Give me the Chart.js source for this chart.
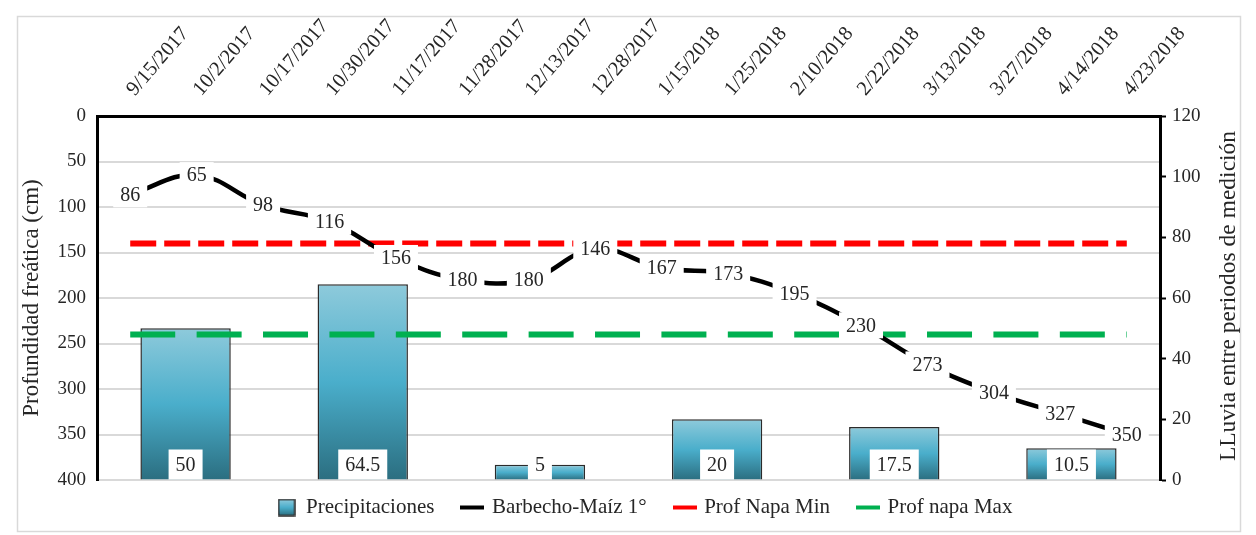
<!DOCTYPE html>
<html>
<head>
<meta charset="utf-8">
<script src="https://cdn.jsdelivr.net/npm/chart.js@4.4.0/dist/chart.umd.min.js"></script>
<style>
html, body { margin:0; padding:0; background:#fff; }
</style>
</head>
<body>
<canvas id="napaChart" width="1256" height="535"></canvas>
<script>
// fechas de medición (eje superior)
const fechas = ["9/15/2017","10/2/2017","10/17/2017","10/30/2017","11/17/2017","11/28/2017",
    "12/13/2017","12/28/2017","1/15/2018","1/25/2018","2/10/2018","2/22/2018",
    "3/13/2018","3/27/2018","4/14/2018","4/23/2018"];

// profundidad de napa (cm)
const profundidad = [86,65,98,116,156,180,180,146,167,173,195,230,273,304,327,350];
const napaMin = [140,140,140,140,140,140,140,140,140,140,140,140,140,140,140,140];
const napaMax = [240,240,240,240,240,240,240,240,240,240,240,240,240,240,240,240];

// lluvia entre periodos de medición (mm)
const periodos = ["P1","P2","P3","P4","P5","P6"];
const precipitaciones = [50,64.5,5,20,17.5,10.5];

const FUENTE = '"Liberation Serif", "Times New Roman", serif';
const TEXTO = "#262626";

function gradienteBarra(g, top, bottom){
    let gr = g.createLinearGradient(0, top, 0, bottom);
    gr.addColorStop(0, "#8ecadb");
    gr.addColorStop(0.5, "#4aaecb");
    gr.addColorStop(1, "#2b6e80");
    return gr;
}

function muestra(tipo, color){
    let cv = document.createElement("canvas");
    let g = cv.getContext("2d");
    if(tipo === "caja"){
        cv.width = 18; cv.height = 18;
        g.fillStyle = gradienteBarra(g, 1, 17);
        g.fillRect(1,1,16,16);
        g.strokeStyle = "#2b2b2b";
        g.lineWidth = 1.5;
        g.strokeRect(1,1,16,16);
    } else {
        cv.width = 24; cv.height = 6;
        g.fillStyle = color;
        g.fillRect(0,1,24,4);
    }
    return cv;
}

const muestras = [muestra("caja"), muestra("linea","#000"), muestra("linea","#ff0000"), muestra("linea","#00b050")];

const marco = {
    id:"marco",
    afterLayout(chart){
        // subir la leyenda y centrarla como en el original
        const lg = chart.legend;
        lg.top -= 12; lg.bottom -= 12;
        lg.left += 17; lg.right += 17;
    },
    beforeDraw(chart){
        const c = chart.ctx;
        c.save();
        c.fillStyle = "#fff";
        c.fillRect(0,0,chart.width,chart.height);
        c.strokeStyle = "#d9d9d9";
        c.lineWidth = 1.5;
        c.strokeRect(17.5,16.5,1223,515);
        c.restore();
    },
    afterDraw(chart){
        // título del eje derecho, leído de abajo hacia arriba
        const c = chart.ctx;
        c.save();
        c.font = "23.5px " + FUENTE;
        c.fillStyle = TEXTO;
        c.textAlign = "center";
        c.textBaseline = "middle";
        c.translate(1229, (chart.chartArea.top + chart.chartArea.bottom)/2 - 2);
        c.rotate(-Math.PI/2);
        c.fillText("LLuvia entre periodos de medición", 0, 0);
        c.restore();
    }
};

const etiquetas = {
    id:"etiquetas",
    afterDatasetsDraw(chart){
        const c = chart.ctx;
        c.save();
        c.font = "20px " + FUENTE;
        c.textAlign = "center";
        c.textBaseline = "middle";

        chart.getDatasetMeta(0).data.forEach((bar,i) => {
            let txt = String(precipitaciones[i]);
            let w = c.measureText(txt).width + 14, h = 30;
            c.fillStyle = "#fff";
            c.fillRect(bar.x - w/2, bar.base - h, w, h);
            c.fillStyle = TEXTO;
            c.fillText(txt, bar.x, bar.base - h/2 + 1);
        });

        chart.getDatasetMeta(1).data.forEach((pt,i) => {
            let txt = String(profundidad[i]);
            let w = c.measureText(txt).width + 14, h = 26;
            c.fillStyle = "#fff";
            c.fillRect(pt.x - w/2, pt.y - h/2, w, h);
            c.fillStyle = TEXTO;
            c.fillText(txt, pt.x, pt.y + 1);
        });
        c.restore();
    }
};

new Chart(document.getElementById("napaChart"),{
    type:"bar",
    data:{
        datasets:[
            {
                type:"bar",
                label:"Precipitaciones",
                data:precipitaciones,
                xAxisID:"xBar",
                yAxisID:"y2",
                order:4,
                grouped:false,
                backgroundColor:function(ctx){
                    const chart = ctx.chart;
                    const area = chart.chartArea;
                    if(!area || ctx.type !== "data") return "#4aaecb";
                    const top = chart.scales.y2.getPixelForValue(ctx.parsed.y);
                    return gradienteBarra(chart.ctx, top, area.bottom);
                },
                borderColor:"#2b2b2b",
                borderWidth:1.5,
                barPercentage:0.51,
                categoryPercentage:1
            },
            {
                type:"line",
                label:"Barbecho-Maíz 1°",
                data:profundidad,
                xAxisID:"x",
                yAxisID:"y",
                order:1,
                borderColor:"#000",
                borderWidth:4.5,
                tension:0.4,
                pointRadius:0,
                fill:false
            },
            {
                type:"line",
                label:"Prof Napa Min",
                data:napaMin,
                xAxisID:"x",
                yAxisID:"y",
                order:2,
                borderColor:"#ff0000",
                borderWidth:6,
                borderDash:[26,8],
                pointRadius:0,
                fill:false
            },
            {
                type:"line",
                label:"Prof napa Max",
                data:napaMax,
                xAxisID:"x",
                yAxisID:"y",
                order:3,
                borderColor:"#00b050",
                borderWidth:6,
                borderDash:[45,21.4],
                pointRadius:0,
                fill:false
            }
        ]
    },
    options:{
        responsive:false,
        animation:false,
        layout:{ padding:{ top:0, left:0, right:0, bottom:0 } },
        plugins:{
            legend:{
                position:"bottom",
                maxHeight:55,
                labels:{
                    usePointStyle:true,
                    pointStyleWidth:18,
                    boxHeight:18,
                    padding:29,
                    color:TEXTO,
                    font:{ family:FUENTE, size:21 },
                    generateLabels(chart){
                        return chart.data.datasets.map((ds,i) => ({
                            text:ds.label,
                            pointStyle:muestras[i],
                            fillStyle:"#fff",
                            strokeStyle:"#fff",
                            lineWidth:0,
                            hidden:false,
                            datasetIndex:i,
                            fontColor:TEXTO
                        }));
                    }
                }
            },
            tooltip:{ enabled:false }
        },
        scales:{
            x:{
                type:"category",
                position:"top",
                labels:fechas,
                offset:true,
                grid:{ display:false, drawTicks:false },
                border:{ display:true, color:"#000", width:3 },
                ticks:{ minRotation:49, maxRotation:49, padding:15, labelOffset:19, color:TEXTO, font:{ family:FUENTE, size:20.5 } },
                afterFit(s){ s.height = 116; }
            },
            xBar:{
                type:"category",
                position:"bottom",
                labels:periodos,
                offset:true,
                display:false
            },
            y:{
                position:"left",
                reverse:true,
                min:0,
                max:400,
                ticks:{ stepSize:50, padding:11, color:TEXTO, font:{ family:FUENTE, size:19 } },
                grid:{ color:"#d9d9d9", lineWidth:2, drawTicks:false },
                border:{ color:"#000", width:3 },
                title:{ display:true, text:"Profundidad freática (cm)", color:TEXTO, font:{ family:FUENTE, size:23 }, padding:{ top:18, bottom:0 } },
                afterFit(s){ s.width = 97; }
            },
            y2:{
                position:"right",
                min:0,
                max:120,
                ticks:{ stepSize:20, padding:6, color:TEXTO, font:{ family:FUENTE, size:19 } },
                grid:{ drawOnChartArea:false, drawTicks:true, tickLength:6, tickColor:"#000", tickWidth:2 },
                border:{ color:"#000", width:3 },
                afterFit(s){ s.width = 96; }
            }
        }
    },
    plugins:[marco, etiquetas]
});
</script>
</body>
</html>
